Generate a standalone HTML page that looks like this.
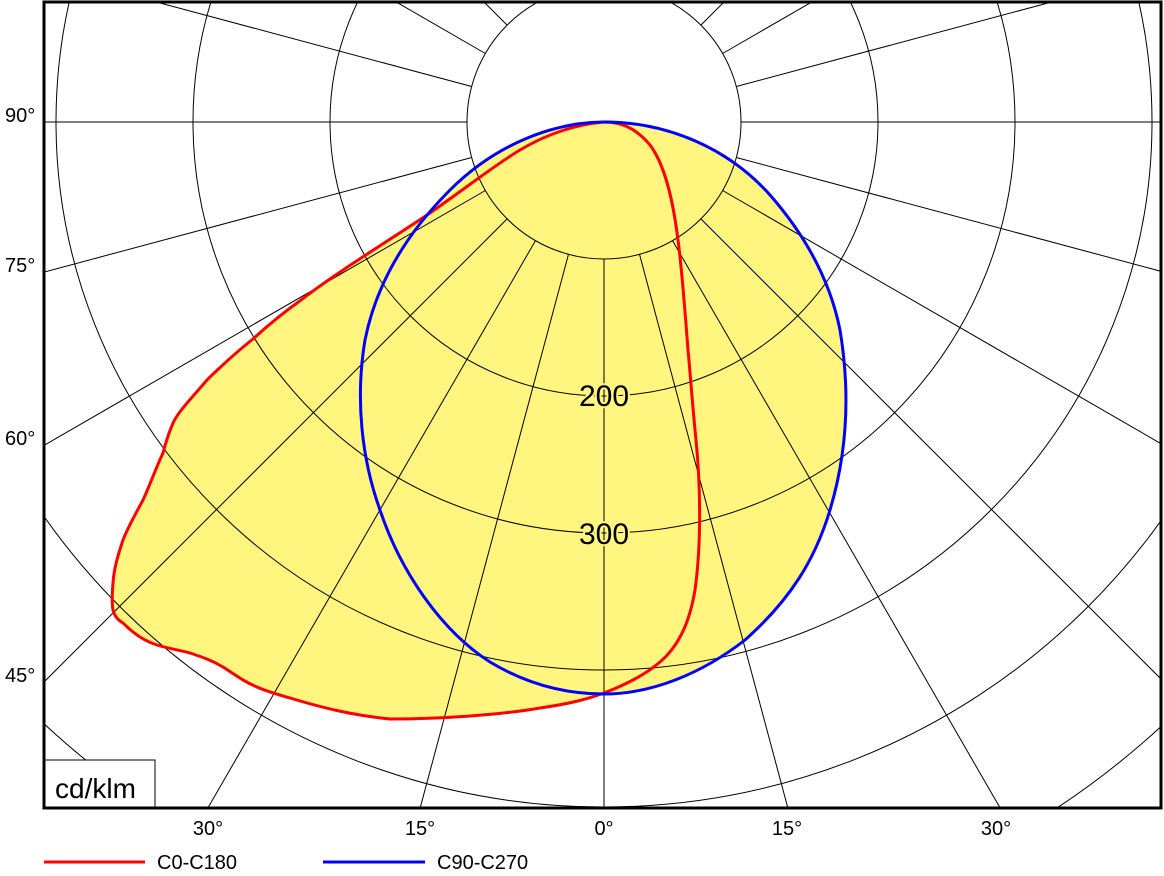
<!DOCTYPE html>
<html><head><meta charset="utf-8"><style>
html,body{margin:0;padding:0;background:#fff;overflow:hidden;width:1164px;height:876px;}
svg{display:block;font-family:"Liberation Sans",sans-serif;}
</style></head><body>
<svg width="1164" height="876" viewBox="0 0 1164 876" xmlns="http://www.w3.org/2000/svg">
<defs><clipPath id="c"><rect x="45" y="3" width="1116" height="804"/></clipPath></defs>
<rect width="1164" height="876" fill="#fff"/>
<g clip-path="url(#c)">
<path d="M604,122 C580,124 550,132 520,150 C495,165 470,185 430,213 C390,240 340,270 301,300 C280,315 265,328 253,339 C230,357 207,380 207,380 C190,400 178,412 173,423 C168,435 165,445 163,453 C155,470 150,485 143,500 C135,515 128,527 123,540 C118,555 114,568 113,583 C112,595 112,605 113,610 C115,617 118,620 123,623 C135,635 145,641 157,645 C170,649 180,650 190,653 C205,658 213,661 223,667 C235,675 245,682 257,687 C268,692 280,695 290,698 C320,707 350,715 390,719 C440,719 500,715 540,708 C575,703 590,698 604,693 C625,685 645,675 660,662 C680,645 690,620 695,590 C702,540 700,480 696,440 C692,400 690,370 688,350 C685,310 682,270 678,240 C673,200 665,165 650,145 C635,127 620,122 604,122 Z" fill="#fff57f"/>
<path d="M604,122 C560,122 500,140 450,190 C400,240 375,290 365,340 C355,400 362,460 380,510 C400,570 440,630 490,662 C530,686 570,694 604,694 C650,694 700,675 745,640 C790,600 815,560 830,510 C848,450 850,390 840,330 C830,280 805,235 770,195 C730,150 670,122 604,122 Z" fill="#fff57f"/>
<g stroke="#000" stroke-width="1" fill="none">
<circle cx="604" cy="122" r="137"/><circle cx="604" cy="122" r="274"/><circle cx="604" cy="122" r="411"/><circle cx="604" cy="122" r="548"/><circle cx="604" cy="122" r="685"/><circle cx="604" cy="122" r="822"/><circle cx="604" cy="122" r="959"/>
<line x1="604" y1="259" x2="604" y2="1322"/>
<line x1="604" y1="-15" x2="604" y2="-1078"/>
<line x1="741" y1="122" x2="1804" y2="122"/>
<line x1="467" y1="122" x2="-596" y2="122"/>
<line x1="639.5" y1="254.3" x2="914.6" y2="1281"/>
<line x1="672.5" y1="240.6" x2="1204" y2="1161"/>
<line x1="700.9" y1="218.9" x2="1452.5" y2="970.5"/>
<line x1="722.6" y1="190.5" x2="1643" y2="722"/>
<line x1="736.3" y1="157.5" x2="1763" y2="432.6"/>
<line x1="568.5" y1="254.3" x2="293.4" y2="1281"/>
<line x1="535.5" y1="240.6" x2="4" y2="1161"/>
<line x1="507.1" y1="218.9" x2="-244.5" y2="970.5"/>
<line x1="485.4" y1="190.5" x2="-435" y2="722"/>
<line x1="471.7" y1="157.5" x2="-555" y2="432.6"/>
<line x1="639.5" y1="-10.3" x2="914.6" y2="-1037"/>
<line x1="672.5" y1="3.4" x2="1204" y2="-917"/>
<line x1="700.9" y1="25.1" x2="1452.5" y2="-726.5"/>
<line x1="722.6" y1="53.5" x2="1643" y2="-478"/>
<line x1="736.3" y1="86.5" x2="1763" y2="-188.6"/>
<line x1="568.5" y1="-10.3" x2="293.4" y2="-1037"/>
<line x1="535.5" y1="3.4" x2="4" y2="-917"/>
<line x1="507.1" y1="25.1" x2="-244.5" y2="-726.5"/>
<line x1="485.4" y1="53.5" x2="-435" y2="-478"/>
<line x1="471.7" y1="86.5" x2="-555" y2="-188.6"/>
</g>
<path d="M604,122 C580,124 550,132 520,150 C495,165 470,185 430,213 C390,240 340,270 301,300 C280,315 265,328 253,339 C230,357 207,380 207,380 C190,400 178,412 173,423 C168,435 165,445 163,453 C155,470 150,485 143,500 C135,515 128,527 123,540 C118,555 114,568 113,583 C112,595 112,605 113,610 C115,617 118,620 123,623 C135,635 145,641 157,645 C170,649 180,650 190,653 C205,658 213,661 223,667 C235,675 245,682 257,687 C268,692 280,695 290,698 C320,707 350,715 390,719 C440,719 500,715 540,708 C575,703 590,698 604,693 C625,685 645,675 660,662 C680,645 690,620 695,590 C702,540 700,480 696,440 C692,400 690,370 688,350 C685,310 682,270 678,240 C673,200 665,165 650,145 C635,127 620,122 604,122 Z" fill="none" stroke="#f00" stroke-width="3"/>
<path d="M604,122 C560,122 500,140 450,190 C400,240 375,290 365,340 C355,400 362,460 380,510 C400,570 440,630 490,662 C530,686 570,694 604,694 C650,694 700,675 745,640 C790,600 815,560 830,510 C848,450 850,390 840,330 C830,280 805,235 770,195 C730,150 670,122 604,122 Z" fill="none" stroke="#00f" stroke-width="3"/>
<text x="604" y="406" font-size="30" text-anchor="middle" stroke="#fff57f" stroke-width="4" paint-order="stroke">200</text>
<text x="604" y="544" font-size="30" text-anchor="middle" stroke="#fff57f" stroke-width="4" paint-order="stroke">300</text>
<rect x="45" y="760" width="110" height="47" fill="#fff" stroke="#000" stroke-width="1"/>
<text x="55" y="798" font-size="28">cd/klm</text>
</g>
<rect x="44" y="2" width="1117" height="806" fill="none" stroke="#000" stroke-width="3"/>
<g font-size="20" fill="#000">
<text x="5" y="122">90°</text><text x="5" y="272">75°</text><text x="5" y="445">60°</text><text x="5" y="682">45°</text>
<text x="208" y="835" text-anchor="middle">30°</text><text x="420" y="835" text-anchor="middle">15°</text><text x="604" y="835" text-anchor="middle">0°</text><text x="787" y="835" text-anchor="middle">15°</text><text x="996" y="835" text-anchor="middle">30°</text>
<text x="157" y="869">C0-C180</text><text x="437" y="869">C90-C270</text>
</g>
<line x1="44" y1="862" x2="145" y2="862" stroke="#f00" stroke-width="3"/>
<line x1="323" y1="862" x2="425" y2="862" stroke="#00f" stroke-width="3"/>
</svg>
</body></html>
